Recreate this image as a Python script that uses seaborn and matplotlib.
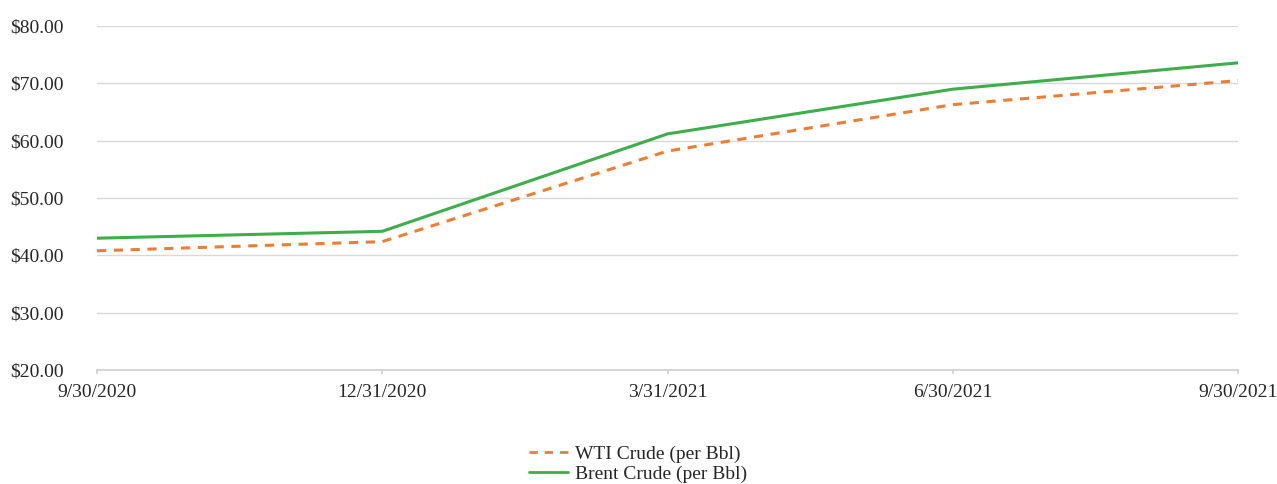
import numpy as np
import pandas as pd
import matplotlib
matplotlib.use('Agg')
import matplotlib.pyplot as plt
import seaborn as sns

# 数据
dates = ['9/30/2020', '12/31/2020', '3/31/2021', '6/30/2021', '9/30/2021']
wti = [40.8, 42.4, 58.2, 66.3, 70.5]
brent = [43.0, 44.2, 61.2, 69.0, 73.6]
series_names = ['WTI Crude (per Bbl)', 'Brent Crude (per Bbl)']

sns.set_theme(style='white')
plt.rcParams['font.family'] = ['Liberation Serif', 'DejaVu Serif']

df = pd.DataFrame({
    'pos': list(range(len(dates))) * 2,
    'price': wti + brent,
    'series': [series_names[0]] * len(dates) + [series_names[1]] * len(dates),
})

fig = plt.figure(figsize=(12.77, 4.84), dpi=100)
ax = fig.add_axes([0.076, 0.2355, 0.8935, 0.7105])

sns.lineplot(data=df, x='pos', y='price', hue='series', style='series',
             palette={series_names[0]: '#ED7D31', series_names[1]: '#3DAE49'},
             dashes={series_names[0]: (3, 2.5), series_names[1]: ''},
             linewidth=2.2, ax=ax, legend=True)

ax.set_xlim(0, len(dates) - 1)
ax.set_ylim(20, 80)
ax.set_yticks(np.arange(20, 81, 10))
ax.set_yticklabels([f'${v:.2f}' for v in range(20, 81, 10)], fontsize=14)
ax.set_xticks(range(len(dates)))
ax.set_xticklabels(dates, fontsize=14)
ax.set_xlabel('')
ax.set_ylabel('')

ax.grid(axis='y', color='#d9d9d9', linewidth=1)
ax.set_axisbelow(True)
for s in ['top', 'right', 'left']:
    ax.spines[s].set_visible(False)
ax.spines['bottom'].set_color('#d0d0d0')
ax.tick_params(axis='x', which='both', bottom=True, length=3, color='#d0d0d0', pad=7)
ax.tick_params(axis='y', length=0, pad=24)

# 图例放在下方
leg = ax.legend(loc='center', bbox_to_anchor=(0.474, -0.274), ncol=1, frameon=False,
                fontsize=14, handlelength=2.0, handletextpad=0.35, labelspacing=0.1)
for line in leg.get_lines():
    line.set_linewidth(2.0)

fig.savefig('out.png', dpi=100)
